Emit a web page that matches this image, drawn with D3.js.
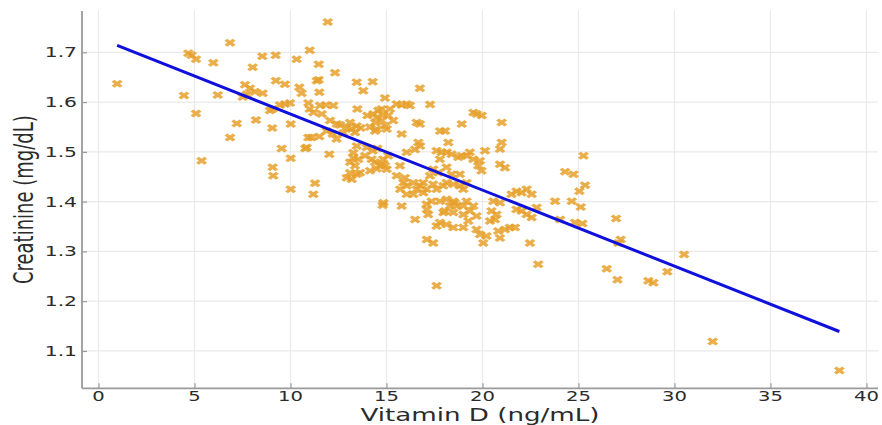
<!DOCTYPE html>
<html>
<head>
<meta charset="utf-8">
<script src="https://cdn.jsdelivr.net/npm/d3@7"></script>
<style>
  html, body { margin: 0; padding: 0; background: #ffffff; }
  svg { display: block; }
  text { font-family: "DejaVu Sans", sans-serif; }
</style>
</head>
<body>
<script>
// Vitamin D (ng/mL) against serum creatinine (mg/dL), one entry per subject
const vitaminD = [
  0.97, 4.45, 4.68, 4.85, 5.08, 5.08, 5.37, 5.98, 6.21, 6.85,
  6.85, 7.2, 7.51, 7.63, 7.72, 7.89, 8.15, 8.55, 8.03, 8.2,
  8.53, 8.93, 9.23, 9.24, 9.71, 9.07, 9.45, 9.71, 9.97, 9.05,
  9.54, 9.07, 9.1, 10.01, 10.01, 10.01, 10.32, 10.46, 10.58, 10.93,
  11.0, 10.93, 11.1, 10.84, 10.77, 11.0, 11.47, 11.94, 11.37, 11.47,
  11.5, 11.19, 11.63, 11.54, 11.85, 12.23, 11.28, 11.19, 11.5, 11.88,
  12.2, 12.4, 12.02, 12.32, 12.58, 12.93, 13.19, 12.75, 12.06, 12.41,
  13.45, 14.28, 13.79, 13.48, 14.0, 14.31, 14.49, 14.41, 14.14, 13.45,
  13.65, 14.4, 13.45, 13.97, 14.28, 14.52, 13.27, 13.27, 13.53, 13.1,
  13.36, 13.1, 13.45, 12.93, 13.19, 13.88, 14.23, 14.4, 14.66, 14.49,
  14.83, 15.09, 14.92, 15.7, 15.53, 15.96, 14.92, 15.53, 15.79, 16.05,
  16.22, 14.57, 14.75, 14.83, 15.09, 15.18, 15.35, 14.92, 14.75, 14.49,
  16.74, 16.57, 16.74, 15.79, 13.36, 16.66, 16.48, 15.01, 13.62, 14.14,
  15.01, 14.75, 14.84, 14.8, 15.79, 16.49, 15.88, 16.05, 16.4, 16.57,
  16.75, 16.92, 16.4, 16.05, 15.71, 16.05, 13.1,
  17.27, 18.92, 19.53, 19.7, 19.96, 21.0, 17.79, 18.05, 18.22, 16.75,
  21.0, 20.91, 17.61, 17.87, 18.14, 18.39, 18.74, 18.91, 19.18, 19.34,
  19.52, 20.13, 20.91, 21.17, 19.78, 19.95, 19.87, 17.78, 17.43, 17.7,
  18.13, 18.39, 18.82, 17.26, 16.91, 17.43, 17.09, 17.61, 17.96, 18.13,
  18.48, 18.82, 19.17, 19.0, 17.35, 17.09, 17.78, 18.13, 18.48, 18.3,
  18.65, 19.17, 19.0, 18.04, 18.48, 19.0, 19.34, 17.78, 18.13, 17.61,
  18.48, 19.0, 19.26, 19.69, 19.87, 20.21, 20.04, 20.82, 21.17, 21.43,
  21.69, 20.91, 20.47, 20.73, 20.65, 20.39, 20.56, 20.91, 21.51, 21.77,
  22.04, 22.3, 22.56, 21.77, 22.04, 22.3, 22.56, 22.82, 17.43, 17.61,
  22.47, 22.9, 17.1, 17.1, 19.52, 17.17, 17.96, 18.56, 19.69,
  25.26, 24.3, 24.74, 25.34, 25.05, 23.78, 24.65, 25.12, 24.04, 24.82,
  25.2, 26.96, 27.2, 27.08, 26.47, 27.03, 28.64, 28.9, 29.63, 30.5,
  31.99, 38.59
];

const creatinine = [
  1.637, 1.613, 1.698, 1.694, 1.686, 1.577, 1.482, 1.679, 1.614, 1.719,
  1.529, 1.557, 1.610, 1.635, 1.616, 1.628, 1.621, 1.618, 1.670, 1.564,
  1.692, 1.583, 1.694, 1.643, 1.636, 1.586, 1.594, 1.596, 1.598, 1.548,
  1.507, 1.469, 1.452, 1.556, 1.487, 1.425, 1.686, 1.630, 1.618, 1.598,
  1.586, 1.529, 1.529, 1.509, 1.507, 1.704, 1.676, 1.761, 1.643, 1.645,
  1.620, 1.579, 1.576, 1.593, 1.594, 1.593, 1.437, 1.415, 1.531, 1.542,
  1.536, 1.526, 1.495, 1.659, 1.554, 1.549, 1.546, 1.538, 1.563, 1.556,
  1.640, 1.641, 1.623, 1.586, 1.573, 1.576, 1.569, 1.559, 1.550, 1.552,
  1.548, 1.542, 1.512, 1.509, 1.502, 1.507, 1.498, 1.488, 1.485, 1.479,
  1.472, 1.458, 1.455, 1.448, 1.445, 1.492, 1.485, 1.479, 1.472, 1.466,
  1.485, 1.492, 1.472, 1.472, 1.452, 1.448, 1.608, 1.596, 1.594, 1.596,
  1.593, 1.583, 1.586, 1.574, 1.573, 1.586, 1.563, 1.552, 1.563, 1.546,
  1.628, 1.559, 1.556, 1.536, 1.539, 1.519, 1.505, 1.546, 1.458, 1.462,
  1.465, 1.475, 1.398, 1.393, 1.391, 1.364, 1.438, 1.432, 1.438, 1.425,
  1.432, 1.418, 1.415, 1.415, 1.425, 1.499, 1.559,
  1.595, 1.556, 1.579, 1.576, 1.573, 1.559, 1.542, 1.542, 1.519, 1.512,
  1.519, 1.506, 1.502, 1.499, 1.499, 1.495, 1.489, 1.492, 1.492, 1.499,
  1.485, 1.502, 1.475, 1.468, 1.472, 1.462, 1.482, 1.485, 1.465, 1.458,
  1.469, 1.455, 1.455, 1.452, 1.438, 1.435, 1.425, 1.425, 1.432, 1.438,
  1.435, 1.432, 1.438, 1.425, 1.401, 1.395, 1.401, 1.405, 1.401, 1.391,
  1.391, 1.401, 1.391, 1.381, 1.378, 1.374, 1.381, 1.358, 1.354, 1.351,
  1.348, 1.348, 1.361, 1.344, 1.334, 1.331, 1.317, 1.341, 1.344, 1.348,
  1.348, 1.327, 1.381, 1.374, 1.364, 1.361, 1.401, 1.398, 1.415, 1.421,
  1.418, 1.425, 1.415, 1.384, 1.381, 1.374, 1.368, 1.388, 1.317, 1.231,
  1.317, 1.274, 1.384, 1.324, 1.391, 1.374, 1.378, 1.398, 1.371,
  1.492, 1.460, 1.455, 1.433, 1.421, 1.401, 1.401, 1.389, 1.364, 1.358,
  1.356, 1.366, 1.324, 1.317, 1.265, 1.243, 1.241, 1.237, 1.259, 1.294,
  1.119, 1.061
];

// Least-squares fit line: creatinine = intercept + slope * vitaminD
const fitIntercept = 1.7288;
const fitSlope = -0.01528;

const xTicks = [0, 5, 10, 15, 20, 25, 30, 35, 40];
const yTicks = [1.1, 1.2, 1.3, 1.4, 1.5, 1.6, 1.7];
const xTitle = "Vitamin D (ng/mL)";
const yTitle = "Creatinine (mg/dL)";

const W = 882, H = 425;
const plot = { left: 82, right: 878, top: 11, bottom: 388.3 };
const stretch = 1.45;   // horizontal glyph stretch used for all text

const svg = d3.select("body").append("svg")
  .attr("width", W).attr("height", H);

const x = d3.scaleLinear().domain([-0.86, 40.6]).range([plot.left, plot.right]);
const y = d3.scaleLinear().domain([1.025, 1.783]).range([plot.bottom, plot.top]);

// grid
const grid = svg.append("g").attr("stroke", "#e9e9e9").attr("stroke-width", 1.2);
grid.selectAll("line.gx").data(xTicks).join("line")
  .attr("class", "gx")
  .attr("x1", d => x(d)).attr("x2", d => x(d))
  .attr("y1", plot.top).attr("y2", plot.bottom);
grid.selectAll("line.gy").data(yTicks).join("line")
  .attr("class", "gy")
  .attr("x1", plot.left).attr("x2", plot.right)
  .attr("y1", d => y(d)).attr("y2", d => y(d));

// axes (ticks point inward)
const xAxis = d3.axisBottom(x).tickValues(xTicks).tickSize(-5).tickFormat("");
const yAxis = d3.axisLeft(y).tickValues(yTicks).tickSize(-5).tickFormat("");
const gx = svg.append("g").attr("transform", `translate(0,${plot.bottom})`).call(xAxis);
const gy = svg.append("g").attr("transform", `translate(${plot.left},0)`).call(yAxis);
[gx, gy].forEach(g => {
  g.select(".domain").attr("stroke", "#9a9a9a").attr("stroke-width", 1.8);
  g.selectAll(".tick line").attr("stroke", "#9a9a9a").attr("stroke-width", 1.2);
});
gx.select(".domain").attr("d", `M${plot.left},0H${plot.right}`);
gy.select(".domain").attr("d", `M0,${plot.top}V${plot.bottom}`);

// tick labels
svg.append("g").selectAll("text").data(xTicks).join("text")
  .attr("transform", d => `translate(${x(d)},${plot.bottom + 12.7}) scale(${stretch},1)`)
  .attr("text-anchor", "middle")
  .attr("font-size", 13.5)
  .attr("fill", "#2b2b2b")
  .text(d => d);
svg.append("g").selectAll("text").data(yTicks).join("text")
  .attr("transform", d => `translate(${plot.left - 5},${y(d) + 5}) scale(${stretch},1)`)
  .attr("text-anchor", "end")
  .attr("font-size", 14)
  .attr("fill", "#2b2b2b")
  .text(d => d.toFixed(1));

// axis titles
svg.append("text")
  .attr("transform", `translate(${(plot.left + plot.right) / 2},${420.5}) scale(${stretch * 1.06},1)`)
  .attr("text-anchor", "middle")
  .attr("font-size", 17)
  .attr("fill", "#2b2b2b")
  .text(xTitle);
svg.append("text")
  .attr("transform", `translate(${33},${(plot.top + plot.bottom) / 2}) scale(${stretch},1) rotate(-90)`)
  .attr("text-anchor", "middle")
  .attr("font-size", 18)
  .attr("fill", "#2b2b2b")
  .text(yTitle);

// scatter points drawn as x-crosses
const points = vitaminD.map((v, i) => ({ v, c: creatinine[i] }));
const cross = d3.symbol().type(d3.symbolCross).size(40)();
svg.append("g").selectAll("path").data(points).join("path")
  .attr("d", cross)
  .attr("transform", d => `translate(${x(d.v)},${y(d.c)}) scale(${stretch * 0.95},1) rotate(45)`)
  .attr("fill", "#e6a02a")
  .attr("fill-opacity", 0.85);

// regression line across the observed vitamin D range
const [vMin, vMax] = d3.extent(vitaminD);
const fit = [vMin, vMax].map(v => ({ v, c: fitIntercept + fitSlope * v }));
svg.append("path")
  .datum(fit)
  .attr("d", d3.line().x(d => x(d.v)).y(d => y(d.c)))
  .attr("fill", "none")
  .attr("stroke", "#1010dc")
  .attr("stroke-width", 3);
</script>
</body>
</html>
